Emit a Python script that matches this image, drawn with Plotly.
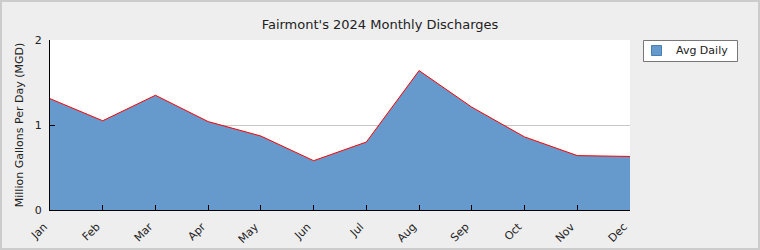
import plotly.graph_objects as go

months = ["Jan", "Feb", "Mar", "Apr", "May", "Jun", "Jul", "Aug", "Sep", "Oct", "Nov", "Dec"]
avg_daily = [1.31, 1.05, 1.35, 1.04, 0.87, 0.58, 0.80, 1.64, 1.21, 0.86, 0.64, 0.63]
series_name = "Avg Daily"

W, H = 760, 250
L, R, T, B = 50, 130, 40, 40
pw, ph = W - L - R, H - T - B

def px_x(p):
    return (p - L) / pw

def px_y(p):
    return 1 - (p - T) / ph

fig = go.Figure()
fig.add_trace(go.Scatter(
    x=months, y=avg_daily, name=series_name, mode="lines",
    fill="tozeroy", fillcolor="#6699cc",
    line=dict(color="#ff0000", width=1), showlegend=False,
))

fig.update_layout(
    width=W, height=H,
    margin=dict(l=L, r=R, t=T, b=B, autoexpand=False),
    paper_bgcolor="#eeeeee", plot_bgcolor="#ffffff",
    font=dict(family="DejaVu Sans", size=11, color="#222222"),
    title=dict(text="Fairmont's 2024 Monthly Discharges", x=0.5, xanchor="center",
               y=1 - 24 / H, yanchor="middle", font=dict(size=13)),
    showlegend=False,
    xaxis=dict(type="category", range=[0, 11], showgrid=False, ticks="inside",
               ticklen=5, tickcolor="#000000", tickangle=-45, automargin=False,
               ticklabelstandoff=5, ticklabelshift=-6,
               showline=True, linecolor="#000000", linewidth=1, zeroline=False,
               tickfont=dict(size=11)),
    yaxis=dict(range=[0, 2], tickvals=[0, 1, 2], showgrid=True, gridcolor="#c8c8c8",
               ticks="inside", ticklen=5, tickcolor="#000000", automargin=False,
               ticklabelstandoff=5,
               showline=True, linecolor="#000000", linewidth=1, zeroline=False,
               title=dict(text="Million Gallons Per Day (MGD)", font=dict(size=11), standoff=8),
               tickfont=dict(size=11)),
    shapes=[
        dict(type="rect", xref="paper", yref="paper",
             x0=px_x(1), x1=px_x(W - 1), y0=px_y(H - 1), y1=px_y(1),
             line=dict(color="#cccccc", width=2), fillcolor="rgba(0,0,0,0)", layer="below"),
        dict(type="rect", xref="paper", yref="paper",
             x0=px_x(643.5), x1=px_x(737.5), y0=px_y(61.5), y1=px_y(40.5),
             line=dict(color="#777777", width=1), fillcolor="#ffffff"),
        dict(type="rect", xref="paper", yref="paper",
             x0=px_x(651.5), x1=px_x(661.5), y0=px_y(55.5), y1=px_y(45.5),
             line=dict(color="#4a7fb5", width=1), fillcolor="#6699cc"),
    ],
    annotations=[dict(text=series_name, xref="paper", yref="paper",
                      x=px_x(674), y=px_y(50.5), xanchor="left", yanchor="middle",
                      showarrow=False, font=dict(size=11, color="#222222"))],
)

fig.write_html("out.html")
